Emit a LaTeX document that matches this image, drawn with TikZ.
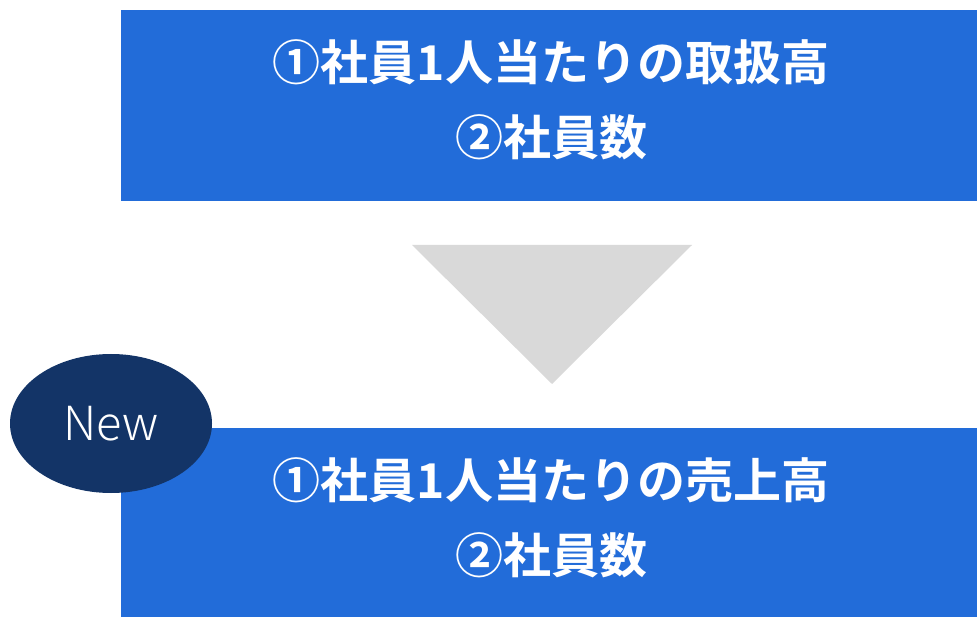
\documentclass[tikz,border=0pt]{standalone}
\usepackage{fontspec}
\newfontfamily\jpbold[BoldFont={* Bold}]{Noto Sans CJK JP}
\newfontfamily\badgefont{Noto Sans CJK JP Light}
\usetikzlibrary{shapes.geometric}
\definecolor{boxblue}{HTML}{226CD9}
\definecolor{navy}{HTML}{133467}
\definecolor{arrowgray}{HTML}{D9D9D9}
\begin{document}
\begin{tikzpicture}[x=1pt,y=-1pt,
  boxtext/.style={text=white,font=\jpbold\bfseries\fontsize{48}{75}\selectfont,align=center},
  badge/.style={ellipse,fill=navy,draw=none,minimum width=202pt,minimum height=139pt,inner sep=0pt,text=white,font=\badgefont\fontsize{47}{50}\selectfont}]
\useasboundingbox (0,0) rectangle (977,617);
\fill[boxblue] (121,10) rectangle (977,201.5);
\node[boxtext] (top) at (551,100) {①社員1人当たりの取扱高\\②社員数};
\fill[arrowgray] (412,245) -- (692,245) -- (552,384) -- cycle;
\coordinate (apex) at (552,384);
\fill[boxblue] (121,428) rectangle (977,617);
\node[boxtext] (bottom) at (551,518) {①社員1人当たりの売上高\\②社員数};
\node[badge] (new) at (111,423.5) {New};
\end{tikzpicture}
\end{document}
